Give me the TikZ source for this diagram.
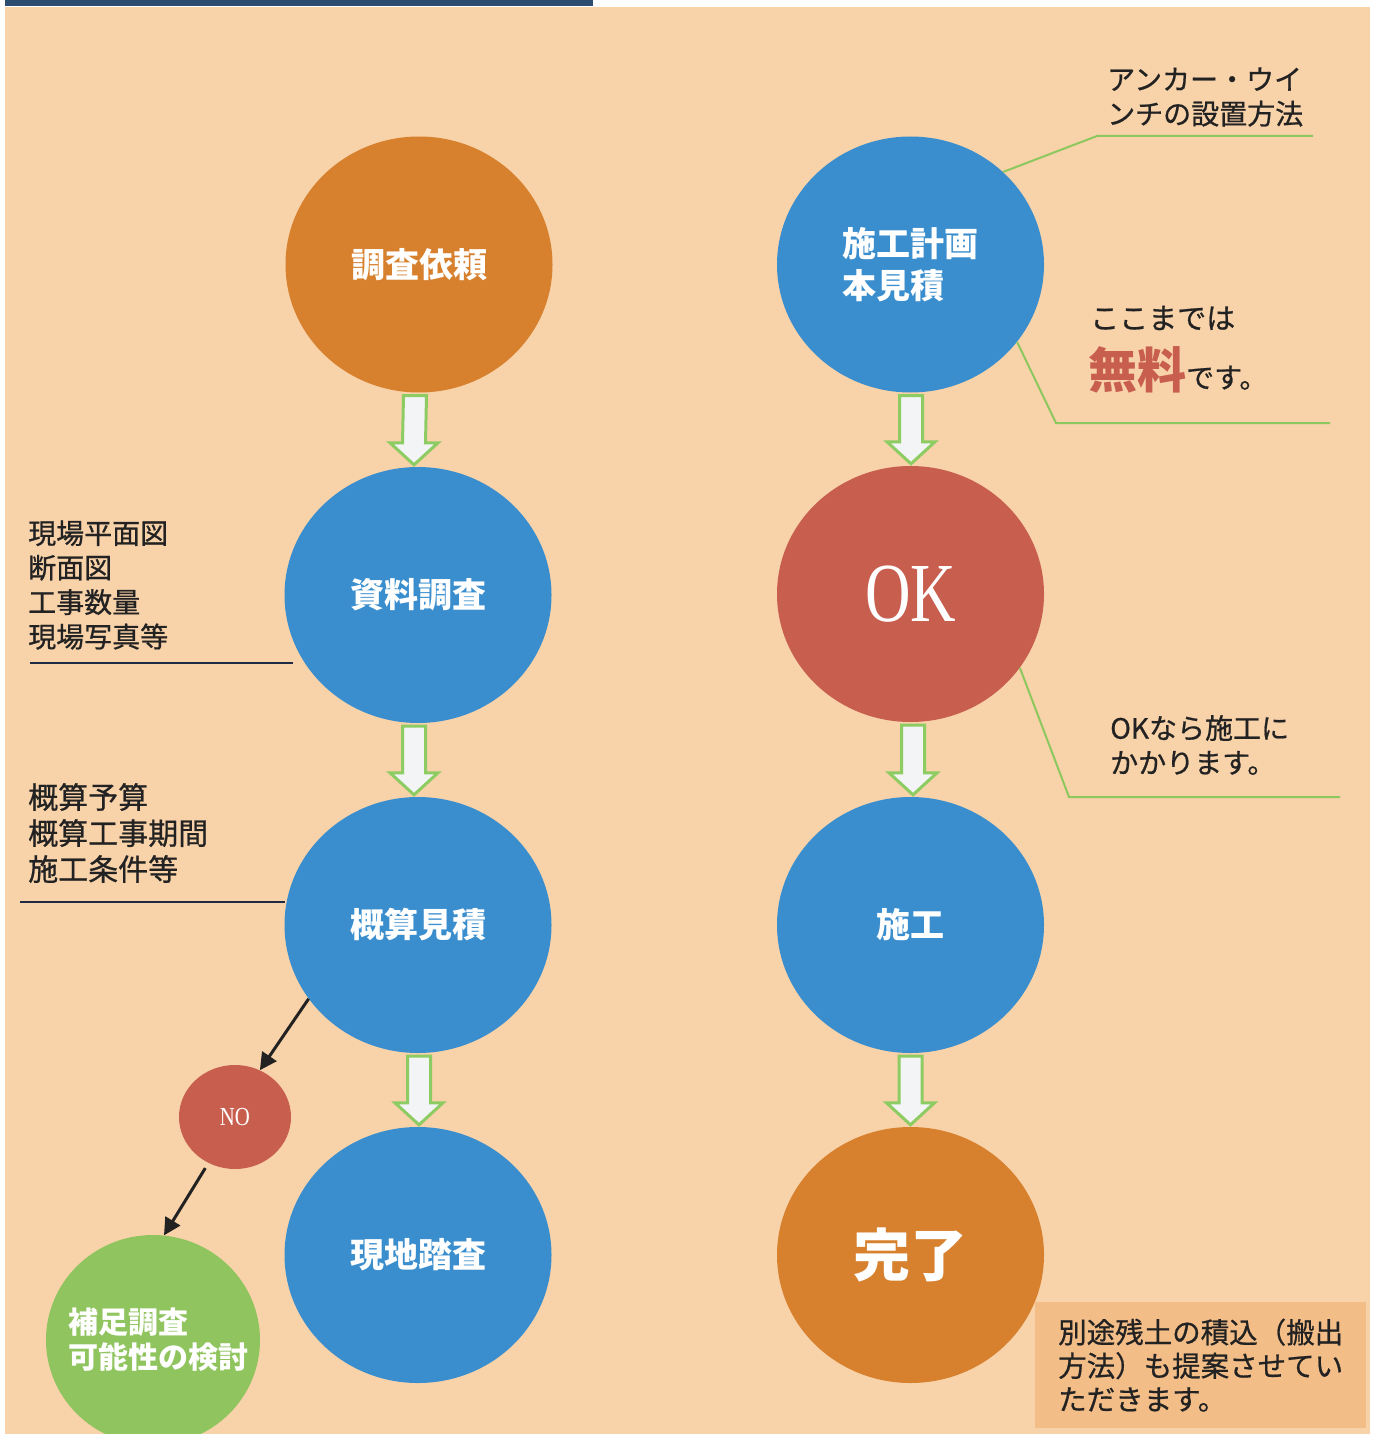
\documentclass[tikz,border=0pt]{standalone}
\usepackage{fontspec}
\usepackage{graphicx}
\setmainfont{Liberation Serif}
\newfontfamily\jp{Noto Sans CJK JP}
\newfontfamily\jpm[FakeBold=0.7]{Noto Sans CJK JP}
\usetikzlibrary{shapes.geometric,arrows.meta,calc}
\definecolor{peach}{HTML}{F8D2A9}
\definecolor{navybar}{HTML}{2C4D70}
\definecolor{corange}{HTML}{D7812F}
\definecolor{cblue}{HTML}{3A8ECE}
\definecolor{cred}{HTML}{C85E4E}
\definecolor{cgreen}{HTML}{8FC45F}
\definecolor{agreen}{HTML}{8DCB63}
\definecolor{awhite}{HTML}{F2F4F6}
\definecolor{lgreen}{HTML}{8DC85F}
\definecolor{nline}{HTML}{1F2A44}
\definecolor{cbox}{HTML}{F3BD88}
\definecolor{ink}{HTML}{222222}
\newcommand\blockarrow[3]{\draw[barrow] ($(#1.south)+(#3-11.5,3)$) -- ($(#1.south)+(#3+11.5,3)$) -- ($(#2.north)+(#3+11.5,-24)$) -- ($(#2.north)+(#3+24,-24)$) -- ($(#2.north)+(#3,-2)$) -- ($(#2.north)+(#3-24,-24)$) -- ($(#2.north)+(#3-11.5,-24)$) -- cycle;}
\begin{document}
\begin{tikzpicture}[x=1pt,y=-1pt,
  circ/.style={ellipse, inner sep=0pt, minimum width=267pt, minimum height=256pt, text=white, align=left, font=\jp\bfseries\fontsize{34}{42}\selectfont},
  barrow/.style={draw=agreen, fill=awhite, line width=3pt, line join=miter},
  blk/.style={draw=ink, line width=3pt, -{Triangle[length=17pt,width=17pt]}},
  gline/.style={draw=lgreen, line width=2pt},
  uline/.style={draw=nline, line width=2.5pt},
  note/.style={anchor=west, inner sep=0pt, align=left, text=ink, font=\jpm\fontsize{28}{34.5}\selectfont}]
\useasboundingbox (0,0) rectangle (1373,1434);
\clip (0,0) rectangle (1373,1434);
\fill[white] (0,0) rectangle (1373,1434);
\fill[peach] (5,7) rectangle (1370,1434);
\fill[navybar] (5,0) rectangle (593,6);

% left column
\node[circ, fill=corange] (irai) at (419,264.5) {調査依頼};
\node[circ, fill=cblue] (shiryo) at (418,595) {資料調査};
\node[circ, fill=cblue] (gaisan) at (418,925) {概算見積};
\node[circ, fill=cblue] (genchi) at (418,1255) {現地踏査};
% right column
\node[circ, fill=cblue] (keikaku) at (910.5,264.5) {施工計画\\本見積};
\node[circ, fill=cred] (ok) at (910.5,594) {\rmfamily\mdseries\scalebox{0.75}[1]{\fontsize{84}{84}\selectfont OK}};
\node[circ, fill=cblue] (seko) at (910.5,925) {施工};
\node[circ, fill=corange, font=\jp\bfseries\fontsize{57}{60}\selectfont] (kanryo) at (910.5,1255) {完了};
% NO branch
\node[ellipse, fill=cred, minimum width=112pt, minimum height=104pt, inner sep=0pt, text=white] (no) at (235,1117) {\scalebox{0.8}[1]{\fontsize{26}{26}\selectfont NO}};
\node[ellipse, fill=cgreen, minimum width=214pt, minimum height=210pt, inner sep=0pt] (hosoku) at (153,1340) {};
\node[inner sep=0pt, align=left, text=white, font=\jp\bfseries\fontsize{30}{35}\selectfont] (hosokut) at (158,1340) {補足調査\\可能性の検討};

% block arrows
\blockarrow{irai}{shiryo}{-4}
\blockarrow{shiryo}{gaisan}{-4}
\blockarrow{gaisan}{genchi}{1}
\blockarrow{keikaku}{ok}{0.5}
\blockarrow{ok}{seko}{2.5}
\blockarrow{seko}{kanryo}{0}

% black arrows
\draw[blk] (gaisan.214) -- (no.62);
\draw[blk, shorten <=6pt] (no.240) -- (hosoku.84);

% left annotations
\node[note] (n1) at (28,585) {現場平面図\\断面図\\工事数量\\現場写真等};
\coordinate (u1a) at (30,663); \coordinate (u1b) at (293,663);
\draw[uline] (u1a) -- (u1b);
\node[note, font=\jpm\fontsize{30}{36}\selectfont] (n2) at (28,833) {概算予算\\概算工事期間\\施工条件等};
\coordinate (u2a) at (20,902); \coordinate (u2b) at (285,902);
\draw[uline] (u2a) -- (u2b);

% right annotations
\node[note] (n3) at (1107,97) {アンカー・ウイ\\ンチの設置方法};
\coordinate (g1a) at (1097,136); \coordinate (g1b) at (1313,136);
\draw[gline] (keikaku.45.6) -- (g1a) -- (g1b);

\node[note, font=\jpm\fontsize{29}{34}\selectfont] (n4) at (1090,318) {ここまでは};
\node[anchor=base west, inner sep=0pt, text=ink, font=\jpm\fontsize{28}{34}\selectfont] (n5) at (1088,388) {{\color{cred}\jp\bfseries\fontsize{49}{49}\selectfont 無料}です。};
\coordinate (g2a) at (1056,423); \coordinate (g2b) at (1330,423);
\draw[gline] (keikaku.-36) -- (g2a) -- (g2b);

\node[note] (n6) at (1110,745) {OKなら施工に\\かかります。};
\coordinate (g3a) at (1069,797); \coordinate (g3b) at (1340,797);
\draw[gline] (ok.-34) -- (g3a) -- (g3b);

\node[anchor=north west, fill=cbox, minimum width=331pt, minimum height=126pt, text width=285pt, inner xsep=23pt, inner ysep=0pt, align=left, text=ink, font=\jpm\fontsize{28.5}{33.5}\selectfont] (bx) at (1035,1302) {別途残土の積込（搬出\\方法）も提案させてい\\ただきます。};
\end{tikzpicture}
\end{document}
